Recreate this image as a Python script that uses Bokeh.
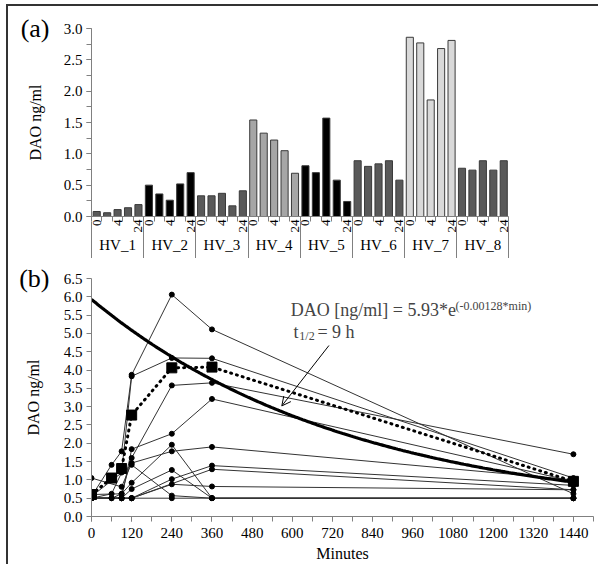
from math import pi
import numpy as np
from bokeh.plotting import figure
from bokeh.models import (Range1d, FixedTicker, PrintfTickFormatter, Label, Arrow, OpenHead,
                          ColumnDataSource, LinearAxis, CustomJSTickFormatter)
from bokeh.layouts import column
from bokeh.embed import file_html
from bokeh.resources import INLINE

FONT = "Liberation Serif"
AXC = "#808080"

# ---------------- Panel (a) data ----------------
volunteers = ["HV_1", "HV_2", "HV_3", "HV_4", "HV_5", "HV_6", "HV_7", "HV_8"]
time_labels = ["0", "", "4", "", "24"]
hv1 = [0.08, 0.06, 0.11, 0.14, 0.19]
hv2 = [0.50, 0.36, 0.26, 0.52, 0.70]
hv3 = [0.33, 0.33, 0.37, 0.17, 0.41]
hv4 = [1.54, 1.33, 1.22, 1.05, 0.69]
hv5 = [0.81, 0.70, 1.57, 0.58, 0.24]
hv6 = [0.89, 0.80, 0.84, 0.89, 0.58]
hv7 = [2.86, 2.77, 1.86, 2.68, 2.81]
hv8 = [0.77, 0.74, 0.89, 0.74, 0.89]
group_colors = ["#595959", "#000000", "#595959", "#a6a6a6", "#000000", "#595959", "#d9d9d9", "#595959"]
a_yticks = [0.0, 0.5, 1.0, 1.5, 2.0, 2.5, 3.0]
a_yminor = [0.0, 0.25, 0.5, 0.75, 1.0, 1.25, 1.5, 1.75, 2.0, 2.25, 2.5, 2.75, 3.0]

# ---------------- Panel (b) data ----------------
s1_min = [0, 60, 90, 120, 240, 360, 1440]; s1_dao = [0.55, 1.41, 1.78, 3.87, 6.06, 5.11, 0.62]
s2_min = [0, 60, 90, 120, 240, 360, 1440]; s2_dao = [0.50, 0.62, 1.20, 3.83, 4.33, 4.32, 1.05]
s3_min = [0, 90, 120, 240, 360, 1440];     s3_dao = [1.05, 0.81, 1.46, 1.78, 1.90, 1.00]
s4_min = [0, 90, 120, 240, 360, 1440];     s4_dao = [0.60, 0.62, 1.60, 3.58, 3.65, 1.70]
s5_min = [0, 90, 120, 240, 360, 1440];     s5_dao = [0.50, 0.50, 1.84, 2.26, 3.21, 0.96]
s6_min = [0, 120, 240, 360, 1440];         s6_dao = [0.55, 1.41, 0.57, 0.50, 0.50]
s7_min = [0, 60, 90, 120, 240, 360, 1440]; s7_dao = [0.50, 0.50, 0.62, 0.92, 1.96, 0.50, 0.50]
s8_min = [0, 90, 120, 240, 360, 1440];     s8_dao = [0.50, 0.50, 0.75, 1.27, 0.50, 0.50]
s9_min = [0, 90, 120, 240, 360, 1440];     s9_dao = [0.50, 0.50, 0.50, 1.02, 1.39, 0.85]
s10_min = [0, 60, 90, 120, 240, 360, 1440]; s10_dao = [0.50, 0.50, 0.50, 0.50, 0.88, 0.82, 0.73]
s11_min = [0, 120, 240, 360, 1440];        s11_dao = [0.50, 0.50, 0.50, 0.50, 0.50]
s12_min = [0, 120, 360, 1440];             s12_dao = [0.50, 0.50, 1.29, 0.73]
mean_min = [0, 60, 90, 120, 240, 360, 1440]
mean_dao = [0.60, 1.05, 1.31, 2.77, 4.06, 4.08, 0.96]
fit_a = 5.93
fit_k = 0.00128
b_xticks = [0, 120, 240, 360, 480, 600, 720, 840, 960, 1080, 1200, 1320, 1440]
b_xminor = list(range(0, 1501, 60))
b_yticks = [0.0, 0.5, 1.0, 1.5, 2.0, 2.5, 3.0, 3.5, 4.0, 4.5, 5.0, 5.5, 6.0, 6.5]


def style_value_axis(ax):
    ax.axis_line_color = AXC
    ax.major_tick_line_color = AXC
    ax.minor_tick_line_color = AXC
    ax.major_tick_in = 0
    ax.major_tick_out = 5
    ax.minor_tick_in = 0
    ax.minor_tick_out = 5
    ax.major_label_text_font = FONT
    ax.major_label_text_font_size = "15px"
    ax.major_label_text_color = "black"
    ax.major_label_standoff = 4


def panel_axis(p, tick, letter):
    ax = LinearAxis(ticker=FixedTicker(ticks=[tick]),
                    formatter=CustomJSTickFormatter(args=dict(t=letter), code="return t"),
                    axis_line_color=None, major_tick_line_color=None, minor_tick_line_color=None,
                    major_tick_in=0, major_tick_out=0, major_label_standoff=11,
                    major_label_text_font=FONT, major_label_text_font_size="26px",
                    major_label_text_color="black",
                    axis_label="DAO ng/ml", axis_label_standoff=-26,
                    axis_label_text_font=FONT, axis_label_text_font_size="16px",
                    axis_label_text_font_style="normal", axis_label_text_color="black")
    p.add_layout(ax, "left")


# ---------------- Panel (a) ----------------
n_bars = len(volunteers) * len(time_labels)
tops = hv1 + hv2 + hv3 + hv4 + hv5 + hv6 + hv7 + hv8
colors = [c for c in group_colors for _ in time_labels]
bar_labels = [t for _ in volunteers for t in time_labels]
bar_pos = [i + 0.5 for i in range(n_bars)]
src = ColumnDataSource(dict(x=bar_pos, top=tops, color=colors))

p1 = figure(x_range=Range1d(0, 48.1), y_range=Range1d(0, 3.0), width=590, height=252,
            output_backend="svg", toolbar_location=None, x_axis_location=None,
            min_border_left=83, min_border_right=5, min_border_top=22, min_border_bottom=42)
p1.vbar(x="x", top="top", width=0.68, fill_color="color", line_color="#3a3a3a",
        line_width=1, source=src)

labelled = [bar_pos[i] for i in range(n_bars) if bar_labels[i] != ""]
sub_axis = LinearAxis(ticker=FixedTicker(ticks=labelled, minor_ticks=list(range(n_bars + 1))),
                      formatter=CustomJSTickFormatter(args=dict(labels=bar_labels),
                                                      code="return labels[Math.floor(tick)]"),
                      bounds=(0, n_bars), axis_line_color=AXC,
                      major_tick_line_color=None, major_tick_in=0, major_tick_out=0,
                      minor_tick_line_color=AXC, minor_tick_in=0, minor_tick_out=5,
                      major_label_orientation=pi / 2, major_label_standoff=-2,
                      major_label_text_font=FONT, major_label_text_font_size="13px",
                      major_label_text_color="black")
p1.add_layout(sub_axis, "below")
group_centers = [len(time_labels) * (g + 0.5) for g in range(len(volunteers))]
group_edges = [len(time_labels) * g for g in range(len(volunteers) + 1)]
group_axis = LinearAxis(ticker=FixedTicker(ticks=group_centers),
                        formatter=CustomJSTickFormatter(args=dict(names=volunteers, n=len(time_labels)),
                                                        code="return names[Math.floor(tick / n)]"),
                        bounds=(0, n_bars), axis_line_color=None,
                        major_tick_line_color=None, major_tick_in=0, major_tick_out=0,
                        minor_tick_line_color=None, minor_tick_in=0, minor_tick_out=0,
                        major_label_standoff=1,
                        major_label_text_font=FONT, major_label_text_font_size="15px",
                        major_label_text_color="black")
p1.add_layout(group_axis, "below")
sep_axis = LinearAxis(ticker=FixedTicker(ticks=[], minor_ticks=group_edges),
                      bounds=(0, n_bars), axis_line_color=None,
                      major_tick_line_color=None, major_tick_in=0, major_tick_out=0,
                      minor_tick_line_color=AXC, minor_tick_in=34, minor_tick_out=3,
                      major_label_standoff=0, major_label_text_font_size="1px")
p1.add_layout(sep_axis, "below")

p1.yaxis.ticker = FixedTicker(ticks=a_yticks, minor_ticks=a_yminor)
p1.yaxis.formatter = PrintfTickFormatter(format="%.1f")
style_value_axis(p1.yaxis[0])
panel_axis(p1, 3.0, "(a)")

# ---------------- Panel (b) ----------------
p2 = figure(x_range=Range1d(0, 1500), y_range=Range1d(0, 6.5), width=590, height=306,
            output_backend="svg", toolbar_location=None,
            min_border_left=83, min_border_right=5, min_border_top=20, min_border_bottom=47)

subjects = [(s1_min, s1_dao), (s2_min, s2_dao), (s3_min, s3_dao), (s4_min, s4_dao),
            (s5_min, s5_dao), (s6_min, s6_dao), (s7_min, s7_dao), (s8_min, s8_dao),
            (s9_min, s9_dao), (s10_min, s10_dao), (s11_min, s11_dao), (s12_min, s12_dao)]
for t, v in subjects:
    p2.line(t, v, line_color="#333333", line_width=1)
for t, v in subjects:
    p2.scatter(t, v, size=5, color="black")

curve_t = np.linspace(0, 1440, 300)
curve_v = fit_a * np.exp(-fit_k * curve_t)
p2.line(curve_t, curve_v, line_color="black", line_width=3.2)

p2.line(mean_min, mean_dao, line_color="black", line_width=3, line_dash="1 5", line_cap="round")
p2.scatter(mean_min, mean_dao, marker="square", size=10, color="black")

p2.xaxis.ticker = FixedTicker(ticks=b_xticks, minor_ticks=b_xminor)
p2.xaxis.axis_label = "Minutes"
p2.yaxis.ticker = FixedTicker(ticks=b_yticks)
p2.yaxis.formatter = PrintfTickFormatter(format="%.1f")
style_value_axis(p2.yaxis[0])
style_value_axis(p2.xaxis[0])
p2.xaxis.major_label_standoff = 6
p2.xaxis.axis_label_text_font = FONT
p2.xaxis.axis_label_text_font_size = "16px"
p2.xaxis.axis_label_text_font_style = "normal"
p2.xaxis.axis_label_text_color = "black"
p2.xaxis.axis_label_standoff = 4
panel_axis(p2, 6.5, "(b)")

p2.add_layout(Label(x=595.6, y=5.63, text="DAO [ng/ml] = 5.93*e", text_font=FONT,
                    text_font_size="18px", text_baseline="alphabetic"))
p2.add_layout(Label(x=1088, y=5.74, text="(-0.00128*min)", text_font=FONT,
                    text_font_size="12px", text_baseline="alphabetic"))
p2.add_layout(Label(x=603.5, y=5.03, text="t", text_font=FONT,
                    text_font_size="18px", text_baseline="alphabetic"))
p2.add_layout(Label(x=621, y=4.92, text="1/2", text_font=FONT,
                    text_font_size="12px", text_baseline="alphabetic"))
p2.add_layout(Label(x=675, y=5.03, text="= 9 h", text_font=FONT,
                    text_font_size="18px", text_baseline="alphabetic"))
p2.add_layout(Arrow(end=OpenHead(size=9, line_width=1, line_color="black"),
                    x_start=709.5, y_start=4.67, x_end=568.6, y_end=3.02,
                    line_width=1, line_color="black"))

for p in (p1, p2):
    p.grid.visible = False
    p.outline_line_color = None
    p.background_fill_color = "white"
    p.border_fill_color = "white"

layout = column(p1, p2, spacing=0,
                styles={"margin-left": "6px", "margin-top": "4px",
                        "border-left": "2px solid #333333", "border-top": "2px solid #333333"})

open("out.html", "w").write(file_html(layout, INLINE))
